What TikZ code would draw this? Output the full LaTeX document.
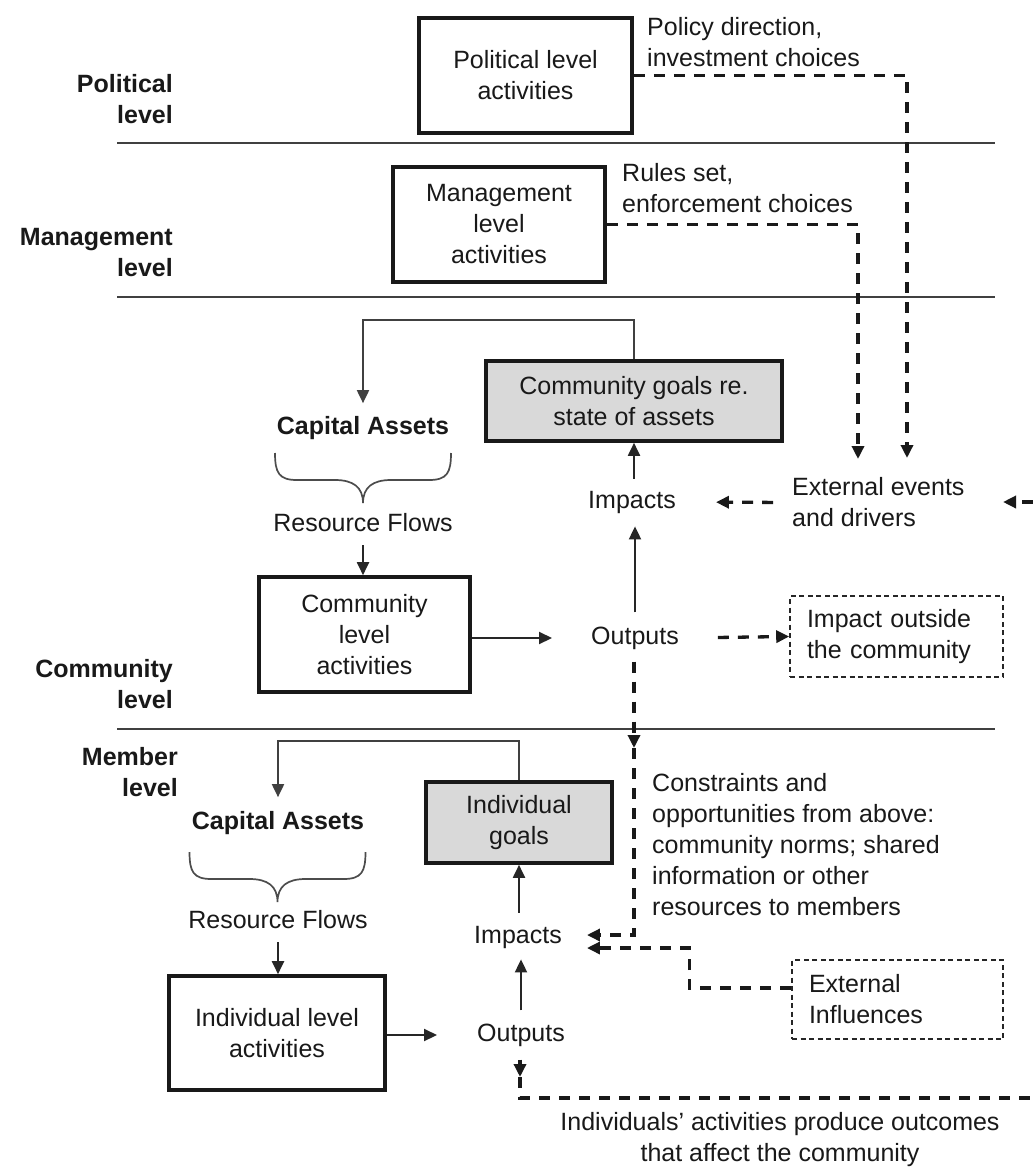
\documentclass[tikz,border=0pt]{standalone}
\usepackage{fontspec}
\setmainfont{Liberation Sans}
\usetikzlibrary{arrows.meta}
\begin{document}
\begin{tikzpicture}[x=1pt,y=-1pt,
  every node/.style={font=\fontsize{25}{31}\selectfont, text=black!90, inner sep=0pt},
  lvl/.style={font=\fontsize{25}{31}\selectfont\bfseries, align=right, anchor=east},
  capital/.style={font=\fontsize{25}{31}\selectfont\bfseries},
  actbox/.style={draw=black!90, line width=3.6pt, align=center},
  goalbox/.style={actbox, fill=black!15},
  outbox/.style={draw=black!85, line width=1.6pt, dash pattern=on 5pt off 3.5pt,
    align=left, inner xsep=17pt},
  note/.style={align=left, anchor=west},
  flow/.style={draw=black!85, line width=1.9pt, -{Triangle[length=13pt,width=12pt]}},
  fback/.style={draw=black!75, line width=1.9pt, -{Triangle[length=13pt,width=12pt]}},
  dflow/.style={draw=black!90, line width=3.3pt, dash pattern=on 11pt off 9pt,
    -{Triangle[length=13pt,width=12pt]}},
  dline/.style={draw=black!90, line width=3.3pt, dash pattern=on 11pt off 9pt},
  levelrule/.style={draw=black!75, line width=1.9pt},
  capbrace/.pic={
    \draw[black!70, line width=1.7pt]
      (-88,0) .. controls (-88,20) and (-84,27) .. (-66,27) -- (-28,27)
        .. controls (-10,27) and (0,34) .. (0,50)
      (88,0) .. controls (88,20) and (84,27) .. (66,27) -- (28,27)
        .. controls (10,27) and (0,34) .. (0,50);
  }
]
\fill[white] (0,0) rectangle (1033,1167);
\useasboundingbox (0,0) rectangle (1033,1167);

% level separators
\draw[levelrule] (117,143) -- (995,143);
\draw[levelrule] (117,297) -- (995,297);
\draw[levelrule] (117,729) -- (995,729);

% level labels
\node[lvl] (lpol) at (173,99) {Political\\level};
\node[lvl] (lmgmt) at (173,252.5) {Management\\level};
\node[lvl] (lcomm) at (173,684) {Community\\level};
\node[lvl] (lmem) at (178,772) {Member\\level};

% political and management levels
\node[actbox, minimum width=213pt, minimum height=115pt] (pol) at (525.5,75.5) {Political level\\activities};
\node[actbox, minimum width=212pt, minimum height=115pt] (mgmt) at (499,224.5) {Management\\level\\activities};
\node[note] (policy) at (647,42) {Policy direction,\\investment choices};
\node[note] (rules) at (622,188) {Rules set,\\enforcement choices};

% community level
\node[goalbox, minimum width=296pt, minimum height=80pt] (cgoal) at (634,401) {Community goals re.\\state of assets};
\node[capital] (capU) at (363,428) {Capital Assets};
\pic at (363,453) {capbrace};
\node (rsU) at (363,523) {Resource Flows};
\node[actbox, minimum width=211pt, minimum height=115pt] (cact) at (364.5,634.5) {Community\\level\\activities};
\node (impU) at (632,502) {Impacts};
\node (outU) at (635,638) {Outputs};
\node[note] (extE) at (792,502.5) {External events\\and drivers};
\node[outbox, text width=179pt, minimum height=81pt] (ioc) at (896.5,636.5) {Impact outside\\the community};

% member level
\node[goalbox, minimum width=186pt, minimum height=81pt] (igoal) at (519,822.5) {Individual\\goals};
\node[capital] (capL) at (278,823) {Capital Assets};
\pic at (277.5,852) {capbrace};
\node (rsL) at (278,920) {Resource Flows};
\node[actbox, minimum width=216pt, minimum height=114pt] (iact) at (277,1033) {Individual level\\activities};
\node (impL) at (518,937) {Impacts};
\node (outL) at (521,1035) {Outputs};
\node[note] (constr) at (652,845) {Constraints and\\opportunities from above:\\community norms; shared\\information or other\\resources to members};
\node[outbox, text width=177pt, minimum height=79pt] (exInf) at (897.5,999.5) {External\\Influences};
\node[align=center] (indiv) at (780,1140) {Individuals’ activities produce outcomes\\that affect the community};

% influences from above
\coordinate (pdrop) at (907,458);
\coordinate (mdrop) at (858,459);
\draw[dflow] (pol.east) -| (pdrop);
\draw[dflow] (mgmt.east) -| (mdrop);
\coordinate (rin) at (1033,502);
\coordinate (rtip) at (1003,502);
\draw[dflow] (rin) -- (rtip);
\draw[dflow, shorten <=19pt, shorten >=40pt] (extE.west) -- (impU.east);

% community flows
\draw[flow, shorten <=12pt] (impU.north -| cgoal.south) -- (cgoal.south);
\draw[flow, shorten <=14pt, shorten >=13pt] (outU.north) -- (outU.north |- impU.south);
\draw[flow, shorten >=39pt] (cact.east |- outU.west) -- (outU.west);
\draw[dflow, shorten <=39pt] (outU.east) -- (ioc.west);
\draw[fback, shorten >=13pt] (cgoal.north) -- ++(0,-39) -| (capU.north);
\draw[flow, shorten <=13pt] (rsU.south) -- (rsU.south |- cact.north);

% constraints passed down to members
\coordinate (cdrop) at (634,748);
\draw[dflow, shorten <=12pt] (outU.south -| cdrop) -- (cdrop);
\draw[dflow, shorten >=25pt] (cdrop) |- ([yshift=2pt]impL.east);
\draw[dflow, shorten >=25pt] ([yshift=11.5pt]exInf.west) -- ++(-102,0) |- ([yshift=-11pt]impL.east);

% member flows
\draw[flow, shorten <=13pt] (rsL.south) -- (rsL.south |- iact.north);
\draw[flow, shorten >=40pt] (iact.east |- outL.west) -- (outL.west);
\draw[flow, shorten <=13pt, shorten >=11pt] (outL.north) -- (outL.north |- impL.south);
\draw[flow, shorten <=13pt] (impL.north -| igoal.south) -- (igoal.south);
\draw[fback, shorten >=14pt] (igoal.north) -- ++(0,-39) -| (capL.north);
\coordinate (idrop) at (520,1077);
\coordinate (iout) at (1033,1098);
\draw[dflow, shorten <=13pt] (outL.south -| idrop) -- (idrop);
\draw[dline] (idrop) |- (iout);
\end{tikzpicture}
\end{document}
